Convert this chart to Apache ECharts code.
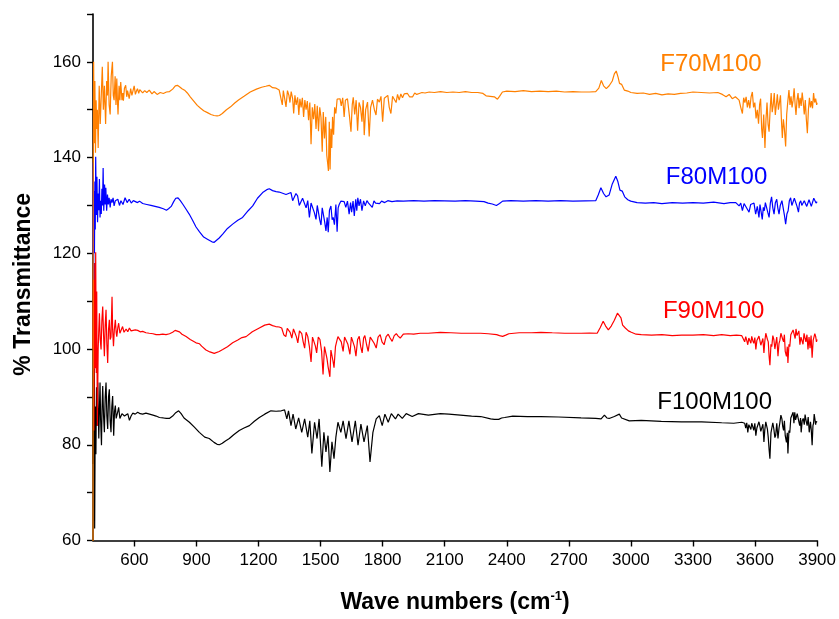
<!DOCTYPE html>
<html>
<head>
<meta charset="utf-8">
<script src="https://cdn.jsdelivr.net/npm/echarts@6/dist/echarts.min.js"></script>
<style>
html,body{margin:0;padding:0;background:#fff;}
#chart{width:839px;height:619px;}
</style>
</head>
<body>
<div id="chart"></div>
<script>
// ---- tick labels ----
const xTicks = [600, 900, 1200, 1500, 1800, 2100, 2400, 2700, 3000, 3300, 3600, 3900];
const seriesNames = ['F100M100', 'F90M100', 'F80M100', 'F70M100'];
// label anchor points (wavenumber, %T) for the series names
const labelPoints = [[3405, 88.8], [3400, 107.8], [3414, 135.8], [3387, 159.4]];

// ---- spectra: [wavenumber (cm-1), % transmittance] ----
const F70M100 = [[400,55],[401,133],[403,160],[406,143],[409,156],[412,141],[415,152],[418,146],[421,150],[425,142],[430,155],[435,147],[440,153],[445,159],[450,150],[455,155],[461,147],[466,156],[470,153],[473,160],[478,151],[483,149],[488,157],[494,160],[498,153],[502,152],[507,157],[511,151],[515,156.5],[518,152],[521,149],[526,155],[530,152],[534,155.8],[540,152],[544,153.5],[547,151.9],[552,154.5],[558,155.1],[563,152.7],[567,154],[570,154.1],[575,152.3],[582,154.4],[588,153],[594,153.3],[599,155],[605,153.2],[610,153.9],[615,154.4],[621,153.4],[626,154.2],[631,154.4],[640,153.5],[650,154],[660,153.6],[672,154.1],[685,153.3],[695,153.8],[710,153.2],[725,153.6],[740,153.4],[755,153.7],[770,153.8],[785,154.3],[798,155],[808,155.1],[818,154.8],[830,154.4],[845,154],[856,153.5],[870,152.7],[885,151.9],[904,150.9],[920,150.3],[935,149.8],[953,149.4],[970,149],[985,148.8],[1000,148.7],[1011,148.8],[1025,149.2],[1045,150],[1065,150.6],[1085,151.4],[1105,152.1],[1130,152.8],[1160,153.7],[1190,154.3],[1215,154.7],[1235,154.9],[1252,155.1],[1268,154.6],[1285,154.5],[1300,154.1],[1309,154.2],[1315,151],[1320,154],[1327,153.6],[1333,150.6],[1340,154],[1347,153],[1352,151.5],[1358,153.8],[1365,152.3],[1370,149.2],[1376,153],[1382,151],[1389,152.6],[1395,148.9],[1400,152.3],[1406,150.5],[1412,152.5],[1418,148.5],[1424,152],[1430,150],[1436,151.8],[1442,147.8],[1448,151.5],[1454,142.8],[1460,150.5],[1466,148],[1472,151.2],[1478,146],[1484,150.8],[1490,145.5],[1496,150.5],[1502,148.4],[1508,141.2],[1513,149.5],[1519,144],[1525,148.5],[1530,140.5],[1535,138.5],[1538,137.2],[1542,147.5],[1546,137.5],[1550,146],[1554,142],[1558,148.5],[1563,144.8],[1568,150.5],[1574,149.2],[1580,152.2],[1587,151.8],[1594,152.3],[1600,150.8],[1607,152.5],[1614,148.5],[1620,152],[1625,151.8],[1630,152.3],[1640,148.5],[1647,145.4],[1653,151],[1658,152.6],[1665,149],[1672,152],[1679,145.6],[1686,151.5],[1693,150.5],[1700,147.5],[1706,152],[1711,144.7],[1718,150],[1727,151.6],[1735,144.4],[1742,150.5],[1751,152],[1760,150],[1768,148.9],[1775,152.2],[1784,151.6],[1792,152.8],[1800,147.5],[1808,152.4],[1816,152.3],[1825,153],[1832,150.5],[1840,149.2],[1848,152.8],[1856,153],[1865,151.5],[1872,153.2],[1880,152],[1888,153.3],[1896,152.5],[1904,153.3],[1912,153],[1920,153.4],[1930,152.7],[1945,152.7],[1955,153.5],[1965,153.2],[1977,153.4],[1990,153.6],[2005,153.5],[2025,153.7],[2050,153.6],[2080,153.8],[2110,153.6],[2140,153.7],[2170,153.6],[2200,153.8],[2230,153.6],[2260,153.6],[2285,153.4],[2300,152.9],[2320,152.8],[2340,152.7],[2355,152.2],[2365,152.8],[2379,153.7],[2400,153.9],[2440,153.8],[2480,154],[2520,153.8],[2560,153.9],[2600,153.8],[2640,153.9],[2680,153.7],[2720,153.8],[2760,153.7],[2800,153.7],[2830,153.8],[2845,154.5],[2857,156.1],[2868,155],[2881,154.4],[2895,155],[2910,156],[2920,157.5],[2929,158.1],[2938,156.8],[2945,155.5],[2955,155.3],[2968,154.1],[2985,153.9],[3000,153.6],[3030,153.4],[3060,153.5],[3090,153.2],[3120,153.4],[3150,153.1],[3180,153.3],[3210,153.2],[3240,153.4],[3270,153.5],[3300,153.7],[3340,153.6],[3380,153.5],[3420,153.6],[3442,153.2],[3460,152.7],[3475,153.2],[3490,152.3],[3505,152.7],[3523,152],[3531,150.5],[3539,149.2],[3545,152.5],[3551,151.5],[3557,152.7],[3563,150.5],[3569,152],[3575,150.3],[3581,152.7],[3587,153.7],[3593,150.5],[3599,151.5],[3605,148.2],[3611,150],[3617,147.1],[3622,151],[3627,152.3],[3632,146],[3636,144.1],[3642,149],[3648,142],[3653,148],[3658,151.5],[3663,147],[3668,145.4],[3673,150],[3678,153.5],[3683,149.5],[3688,151],[3693,153.5],[3698,148.9],[3703,151],[3708,153.2],[3713,150],[3718,151.5],[3723,153],[3728,147.5],[3732,144.1],[3737,148],[3742,146],[3748,142.3],[3753,149],[3758,151.5],[3764,154.1],[3769,151],[3774,152.8],[3779,150.5],[3784,152],[3789,154.5],[3794,151],[3798,148.9],[3803,152],[3808,153.5],[3813,150.3],[3818,152.5],[3823,150.8],[3828,153.6],[3833,151.5],[3838,149],[3843,152],[3848,148],[3853,145.1],[3858,150],[3863,152.5],[3868,150.5],[3873,151.8],[3878,150.3],[3883,153.5],[3888,151.5],[3893,152.3],[3898,151],[3900,151.5]];

const F80M100 = [[400,120],[401,139],[403,114.5],[405,133],[407,120],[409,135],[411,125],[413,140.2],[416,128],[419,136],[422,126.5],[425,132.5],[428,129],[431,135.5],[434,127.5],[437,131],[440,128.2],[443,133.5],[446,130],[449,137.8],[452,128.9],[456,134.4],[459,130.2],[462,133.7],[466,128.9],[470,132.3],[474,130.2],[478,131.6],[483,129.6],[487,131.3],[492,130.6],[497,131.6],[502,129.9],[508,131],[514,130.6],[520,131.3],[528,130],[535,131],[545,130.2],[555,131.6],[565,130.6],[575,131.3],[585,130.5],[595,131.0],[605,130.8],[615,130.6],[625,130.9],[640,130.4],[660,130.2],[680,130],[700,129.8],[720,129.6],[740,129.3],[755,129.0],[765,129.3],[778,129.8],[790,130.8],[800,131.5],[811,131.6],[822,131],[835,130.2],[850,129.2],[865,128.2],[880,127],[898,125.5],[915,124.5],[935,123.4],[955,122.9],[975,122.4],[986,122.3],[995,122.5],[1010,123.2],[1027,124],[1050,125.2],[1075,126.1],[1100,126.9],[1123,127.5],[1150,128.9],[1172,129.9],[1195,131.5],[1220,132.7],[1240,133.3],[1252,133.5],[1268,133.1],[1285,132.9],[1300,132.8],[1309,132.9],[1320,132.5],[1333,132.3],[1345,132.5],[1357,132.7],[1365,131],[1373,130.9],[1381,132.5],[1389,132],[1397,130],[1405,130.2],[1413,131.5],[1421,131.3],[1430,129.5],[1438,131],[1446,127.5],[1454,130.5],[1462,130.9],[1470,128.5],[1478,127.1],[1484,130],[1490,130.2],[1496,127],[1502,125.9],[1508,129.5],[1513,129.6],[1520,126.5],[1526,124.7],[1532,127.5],[1537,124.4],[1543,129],[1550,129.9],[1556,127],[1561,127.5],[1567,126],[1574,130.2],[1580,124.5],[1585,129.5],[1590,130.2],[1598,130.9],[1606,131],[1614,130.8],[1622,129.6],[1630,130.9],[1638,128.2],[1645,130.6],[1650,128.6],[1657,130.9],[1663,127.8],[1670,131.3],[1675,128.9],[1680,131.6],[1686,129.9],[1693,131.3],[1700,128.9],[1708,130.95],[1716,129.9],[1724,131.0],[1732,130.5],[1740,130.2],[1750,129.6],[1758,130.95],[1766,130.5],[1775,130.8],[1785,130.4],[1795,130.9],[1810,130.6],[1825,131],[1845,130.8],[1870,130.95],[1900,130.9],[1950,131],[2000,130.9],[2050,131],[2100,130.95],[2150,130.9],[2200,131],[2250,130.9],[2290,130.8],[2310,130.5],[2330,130.3],[2350,130],[2365,130.4],[2380,130.9],[2420,131],[2480,130.9],[2540,131],[2600,130.9],[2660,131],[2720,130.9],[2780,130.95],[2830,131],[2842,132.2],[2855,133.7],[2868,132.5],[2880,131.8],[2895,132.2],[2910,134.5],[2927,136.1],[2937,135],[2947,133.2],[2958,133],[2970,131.8],[2985,131.2],[2999,130.9],[3030,130.6],[3070,130.5],[3110,130.6],[3150,130.4],[3200,130.6],[3250,130.5],[3300,130.6],[3350,130.5],[3400,130.7],[3450,130.4],[3480,130.6],[3507,130.6],[3515,130.2],[3523,129.9],[3531,130.5],[3539,128.9],[3547,130.4],[3555,130.2],[3563,129.2],[3571,128.6],[3579,130.2],[3587,129.9],[3595,130.5],[3603,128.2],[3611,129.8],[3619,127.5],[3624,130.2],[3629,129.9],[3635,127.1],[3640,129.6],[3645,128.9],[3650,130.6],[3656,130.2],[3662,128.5],[3668,127.5],[3674,130.5],[3680,131.8],[3686,129.5],[3692,128.2],[3698,130.5],[3705,131.3],[3710,129.5],[3716,128.2],[3722,130],[3730,131],[3736,129.5],[3742,128],[3748,126.1],[3754,128.2],[3760,128.9],[3766,131],[3772,131.6],[3778,130],[3784,130.2],[3790,131.5],[3797,131.3],[3803,129.8],[3810,128.6],[3815,130.5],[3821,130.95],[3826,130],[3832,129.6],[3838,131],[3845,131.3],[3850,129.8],[3856,130.2],[3861,131.2],[3866,130.95],[3872,129.8],[3878,130.2],[3884,131.5],[3890,131.3],[3895,130.5],[3900,130.8]];

const F90M100 = [[400,100],[402,117.8],[404,83],[407,118],[410,96],[413,120.2],[416,95],[418,112],[421,84],[425,100],[428,104],[431,107.5],[435,102],[439,99.9],[443,106],[447,108.9],[451,103],[455,98.5],[459,105],[463,108.2],[467,101],[471,97.1],[475,104],[479,106.1],[483,102],[487,102.5],[492,110.9],[495,104],[499,100.6],[503,104],[508,106.1],[512,103.5],[515,102.6],[520,104.5],[524,105.4],[530,103.3],[536,103.7],[543,104.7],[550,103.5],[560,104.2],[568,103.6],[576,104.4],[584,103.8],[592,103.5],[604,104],[616,103.9],[628,103.6],[640,103.7],[656,103.4],[672,103.3],[690,103.2],[705,103.0],[721,103.0],[737,103.1],[753,103.0],[770,103.2],[785,103.5],[797,103.9],[806,103.9],[818,103.6],[830,103.1],[850,102.6],[870,102],[898,101.3],[915,101.1],[925,100.6],[946,99.8],[965,99.4],[986,99.1],[995,99.1],[1010,99.5],[1027,99.9],[1050,100.5],[1075,101.3],[1100,101.9],[1120,102.4],[1140,102.6],[1170,103.6],[1204,104.4],[1230,105],[1252,105.2],[1268,104.9],[1283,104.7],[1300,104.6],[1312,104.4],[1322,103],[1332,102.6],[1339,104.3],[1345,104.4],[1353,103.5],[1361,102.3],[1369,104.2],[1376,104],[1383,102.6],[1390,101.3],[1398,103.8],[1409,103.2],[1416,101.5],[1423,100.2],[1430,103.5],[1438,102.65],[1446,100.5],[1454,97.3],[1461,102.5],[1468,102.3],[1475,100.6],[1481,99.2],[1489,102.5],[1497,102],[1505,99.5],[1512,94.7],[1519,100.5],[1526,100.9],[1531,98],[1536,96.4],[1545,94.2],[1550,99.8],[1555,99.9],[1560,97.5],[1565,96.1],[1572,100.5],[1578,101.6],[1584,102.6],[1590,102.65],[1600,101.5],[1609,99.5],[1616,102.5],[1623,102.65],[1632,101],[1642,98.9],[1649,102.5],[1656,102.5],[1664,100.5],[1671,98.5],[1679,102],[1687,102.65],[1694,100.5],[1701,99.2],[1708,102.3],[1714,102.8],[1722,101],[1730,99.5],[1740,102.5],[1749,102.8],[1759,101.2],[1769,100.2],[1778,102.5],[1788,103],[1797,101.5],[1807,100.9],[1817,102.6],[1827,103.1],[1836,102.3],[1846,101.6],[1856,102.8],[1866,103.2],[1875,102.7],[1885,102.3],[1900,103.1],[1924,103.2],[1950,103.1],[1982,103.3],[2020,103.3],[2079,103.5],[2130,103.4],[2180,103.3],[2230,103.3],[2274,103.3],[2310,103.2],[2351,103],[2365,102.8],[2380,102.65],[2395,102.9],[2410,103.2],[2460,103.4],[2520,103.4],[2565,103.5],[2620,103.4],[2680,103.3],[2759,103.3],[2800,103.35],[2837,103.3],[2852,104.5],[2866,105.8],[2878,104.8],[2891,104],[2905,104.8],[2920,106],[2935,107.5],[2943,107.8],[2952,106.5],[2960,105],[2973,104.4],[2988,103.8],[3002,103.5],[3025,103.1],[3050,103],[3100,102.9],[3150,103],[3200,102.8],[3245,102.9],[3300,102.9],[3350,103],[3400,102.8],[3439,103],[3480,102.8],[3510,102.9],[3536,102.8],[3545,102.5],[3550,101.5],[3555,102.6],[3560,101.8],[3565,100.9],[3570,102.3],[3575,102],[3580,101.2],[3584,102.65],[3589,101.8],[3594,101.2],[3599,102.4],[3604,99.9],[3609,101.8],[3614,101.5],[3619,102.7],[3623,102.3],[3628,100.8],[3633,100.5],[3638,102.2],[3643,99.2],[3647,101.5],[3652,103.3],[3656,103.3],[3660,102],[3664,101.5],[3668,98.5],[3672,96.6],[3677,101],[3681,100.5],[3686,102.8],[3691,102],[3696,100],[3700,100.2],[3705,102.5],[3711,98.5],[3716,101.2],[3720,101.8],[3725,103.3],[3730,103.7],[3734,102],[3738,101.5],[3742,103],[3746,99.5],[3752,98.5],[3756,100.5],[3759,97.1],[3764,101],[3768,100.5],[3773,103],[3779,102.65],[3784,104],[3789,103.6],[3794,102.2],[3798,104.2],[3803,102.8],[3808,102.5],[3812,103.8],[3817,100.9],[3822,102.5],[3827,102.8],[3832,101],[3837,103.3],[3842,102.2],[3846,101.5],[3851,103],[3856,99.9],[3861,102.5],[3866,100.2],[3871,102.8],[3876,98.2],[3881,101.8],[3885,101.5],[3889,103.2],[3893,102.65],[3897,101.5],[3900,102]];

const F100M100 = [[400,76],[402,95.5],[404,84],[406,96],[408,62.5],[411,88],[414,78],[417,92],[420,84],[423,93],[428,81.3],[434,93],[437,85],[441,79.9],[444,88],[447,92.3],[451,86],[455,82.6],[459,90],[463,93],[467,86],[471,83.3],[475,90],[479,91.6],[483,85],[487,82.6],[491,88],[495,90.2],[500,81.9],[504,87],[508,88.2],[512,85.5],[515,85.7],[520,87],[524,87.8],[530,85.5],[536,85.1],[540,86.5],[544,86.8],[552,86],[560,85.7],[568,86.5],[576,85.1],[584,86],[592,86.6],[604,86.4],[616,86.8],[628,86.5],[640,86.4],[656,86.6],[673,86.4],[690,86.2],[705,86.0],[721,85.7],[740,85.6],[755,85.5],[769,85.5],[785,86.0],[800,86.7],[814,87.1],[826,86.5],[840,85.6],[866,84.7],[890,83.7],[914,82.6],[940,81.6],[962,81.3],[985,80.5],[1000,80.1],[1011,80.0],[1025,80.3],[1040,80.8],[1059,81.3],[1080,82.1],[1107,83.0],[1130,83.5],[1156,84.0],[1180,84.9],[1204,85.7],[1230,86.4],[1260,87.1],[1285,87.0],[1310,87.1],[1326,87.3],[1337,85.4],[1345,87.1],[1357,84.0],[1367,86.4],[1380,83.3],[1394,85.6],[1409,82.6],[1423,85.4],[1438,81.6],[1448,85.0],[1458,78.2],[1471,84.7],[1483,81.3],[1493,85.4],[1506,75.4],[1516,82.6],[1526,78.5],[1536,81.9],[1545,74.3],[1555,80.6],[1565,77.1],[1574,81.6],[1584,84.7],[1598,82.6],[1609,85.0],[1623,81.3],[1637,85.0],[1652,80.6],[1668,85.0],[1681,79.9],[1695,84.3],[1710,80.6],[1726,84.0],[1739,76.4],[1753,82.6],[1769,85.4],[1784,86.1],[1798,84.0],[1811,86.4],[1827,84.7],[1842,86.5],[1862,85.4],[1875,86.4],[1895,85.5],[1914,86.5],[1943,85.9],[1973,86.5],[2021,86.2],[2079,86.5],[2120,86.4],[2176,86.2],[2230,86.0],[2274,85.9],[2322,85.4],[2340,85.3],[2361,85.3],[2375,85.6],[2390,85.7],[2429,86.0],[2500,85.9],[2565,85.9],[2650,85.8],[2759,85.6],[2830,85.5],[2856,85.4],[2872,86.2],[2884,85.6],[2895,85.5],[2920,85.9],[2944,86.4],[2955,85.6],[2963,85.4],[2992,85.0],[3050,85.1],[3147,84.9],[3245,84.8],[3342,84.8],[3439,84.6],[3497,84.5],[3536,84.7],[3545,84.3],[3550,84.5],[3555,83.5],[3560,84.6],[3565,82.6],[3570,84.2],[3575,84.4],[3580,83.2],[3584,84.5],[3589,83.8],[3594,83.0],[3599,84.5],[3604,81.9],[3609,83.5],[3614,83.8],[3619,84.8],[3623,84.0],[3628,82.8],[3633,82.5],[3638,84.3],[3643,80.6],[3647,83],[3652,84.8],[3656,84.7],[3660,83.2],[3664,81.5],[3668,79],[3672,77.1],[3677,82.5],[3681,82.5],[3686,84.6],[3691,83.3],[3696,81.5],[3700,82.0],[3705,84.5],[3711,81.3],[3716,83.5],[3720,84.6],[3725,86.2],[3730,85.4],[3734,83.8],[3738,83.0],[3742,85],[3746,81.9],[3752,80.5],[3756,82.5],[3759,78.2],[3764,83],[3768,82.5],[3773,85.6],[3779,85.4],[3784,86.8],[3788,84.5],[3792,86.8],[3796,85.2],[3800,84.9],[3804,86.5],[3808,86.4],[3812,84.8],[3816,84.0],[3820,85.6],[3823,82.6],[3828,85],[3833,85.5],[3838,84.2],[3842,86.3],[3847,85],[3852,84.0],[3857,85.8],[3862,82.6],[3868,84.8],[3872,83],[3876,79.9],[3880,84],[3883,84.5],[3886,86.4],[3889,85.5],[3893,84.2],[3895,84.9],[3900,84.7]];

const seriesData = [F100M100, F90M100, F80M100, F70M100];
const seriesColors = ['#000000', '#FF0000', '#0000FF', '#FF8000'];

const FONT = 'Liberation Sans, Arial, sans-serif';
const chart = echarts.init(document.getElementById('chart'), null, {renderer: 'canvas'});

const series = seriesData.map((d, i) => ({
  name: seriesNames[i],
  type: 'line',
  data: d,
  showSymbol: false,
  symbol: 'none',
  clip: true,
  lineStyle: {color: seriesColors[i], width: 1.2},
  itemStyle: {color: seriesColors[i]},
  z: 2 + i,
  markPoint: {
    symbol: 'circle',
    symbolSize: 0,
    silent: true,
    data: [{
      coord: labelPoints[i],
      label: {
        show: true, position: 'inside', formatter: seriesNames[i],
        color: seriesColors[i], fontSize: 24, fontFamily: FONT
      }
    }]
  }
}));

chart.setOption({
  animation: false,
  backgroundColor: '#ffffff',
  grid: {left: 93, right: 21, top: 14, bottom: 73, containLabel: false},
  xAxis: {
    type: 'value', min: 400, max: 3900,
    axisLine: {show: true, onZero: false, lineStyle: {color: '#000', width: 1.6}},
    axisTick: {show: true, inside: false, length: 6, customValues: xTicks, lineStyle: {color: '#000', width: 1.4}},
    axisLabel: {show: true, customValues: xTicks, color: '#000', fontSize: 17, fontFamily: FONT, margin: 11,
      formatter: v => String(v)},
    splitLine: {show: false},
    name: '{b|Wave numbers (cm}{s|-1}{b|)}',
    nameLocation: 'middle', nameGap: 49,
    nameTextStyle: {
      rich: {
        b: {fontSize: 23, fontWeight: 'bold', fontFamily: FONT, color: '#000', lineHeight: 26},
        s: {fontSize: 13, fontWeight: 'bold', fontFamily: FONT, color: '#000', lineHeight: 13, verticalAlign: 'top'}
      }
    }
  },
  yAxis: {
    type: 'value', min: 60, max: 170, interval: 10,
    axisLine: {show: true, onZero: false, lineStyle: {color: '#000', width: 1.6}},
    axisTick: {show: true, inside: false, length: 6, lineStyle: {color: '#000', width: 1.4}},
    axisLabel: {show: true, color: '#000', fontSize: 17, fontFamily: FONT, margin: 12,
      formatter: v => (v % 20 === 0 && v <= 160) ? String(v) : ''},
    splitLine: {show: false},
    name: '% Transmittance',
    nameLocation: 'middle', nameGap: 58,
    nameTextStyle: {fontSize: 23, fontWeight: 'bold', fontFamily: FONT, color: '#000', padding: [0, 14, 0, 0]}
  },
  series: series
});
</script>
</body>
</html>
